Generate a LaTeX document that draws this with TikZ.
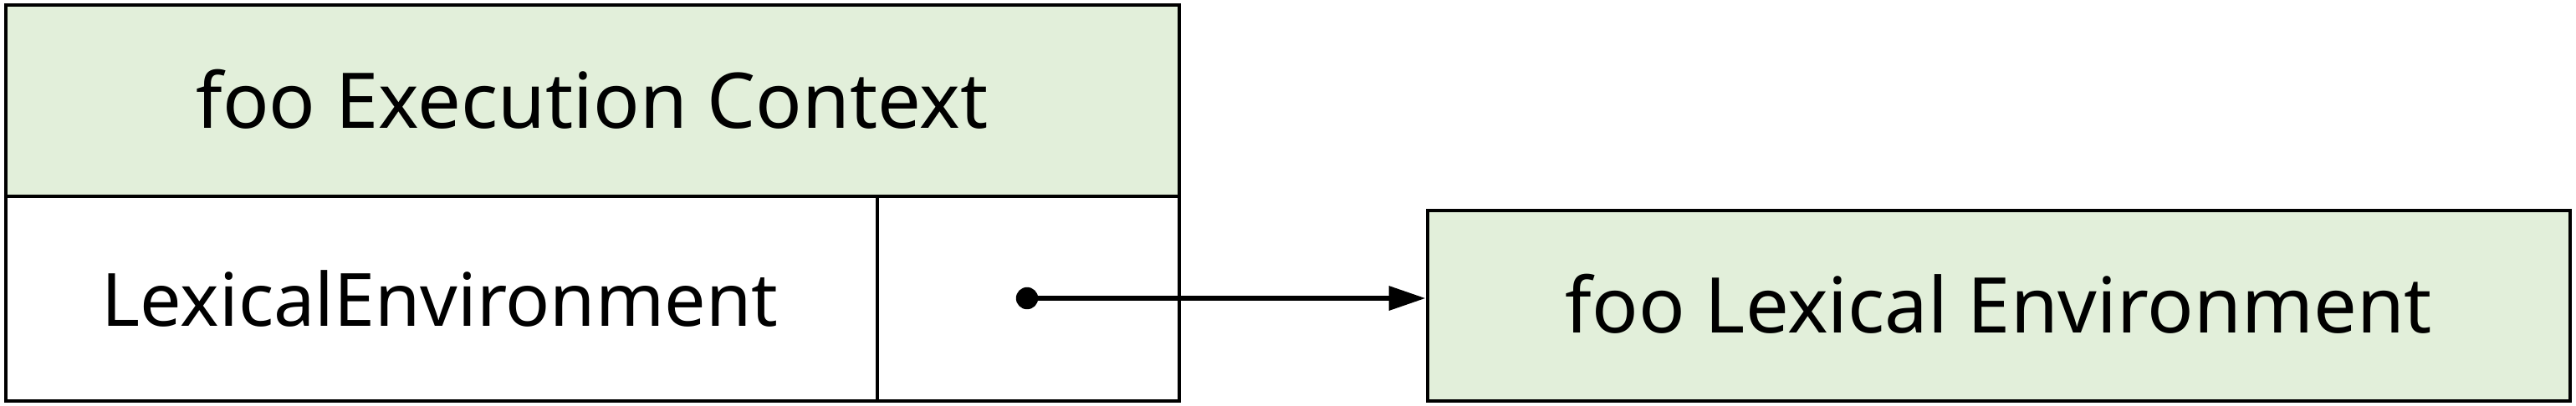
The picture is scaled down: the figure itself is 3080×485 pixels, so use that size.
\documentclass[tikz,border=0pt]{standalone}
\usepackage{fontspec}
\setmainfont{Noto Sans}
\usetikzlibrary{arrows.meta}
\definecolor{boxgreen}{HTML}{E2EFDA}
\tikzset{
  cell/.style={draw=black, line width=1.2pt},
  lbl/.style={anchor=base, inner sep=0pt, font=\fontsize{23}{27}\selectfont},
  ptr/.style={line width=1.6pt, -{Triangle[length=11pt,width=7pt]}},
}
\begin{document}
\begin{tikzpicture}[x=0.25pt,y=-0.25pt]
\useasboundingbox (0,0) rectangle (3080,485);
% execution context
\path[fill=boxgreen] (7,6) rectangle (1410,235);
\draw[cell] (7,6) rectangle (1410,480);
\draw[cell] (7,235) -- (1410,235);
\draw[cell] (1049,235) -- (1049,480);
\node[lbl] (hdr) at (708,153) {foo Execution Context};
\node[lbl, font=\fontsize{22}{26}\selectfont] (lex) at (526,390) {LexicalEnvironment};
% lexical environment box
\node[cell, fill=boxgreen, minimum width=341.5pt, minimum height=57pt, inner sep=0pt] (env) at (2390,366) {};
\node[lbl] (envt) at (2390,398) {foo Lexical Environment};
% pointer
\coordinate (dot) at (1228,357);
\fill (dot) circle (3.3pt);
\draw[ptr] (dot) -- (dot -| env.west);
\end{tikzpicture}
\end{document}
